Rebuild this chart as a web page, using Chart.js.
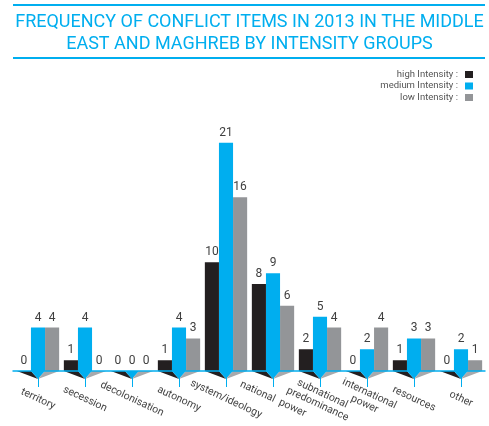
<!DOCTYPE html>
<html>
<head>
<meta charset="utf-8">
<script src="https://cdn.jsdelivr.net/npm/chart.js@4"></script>
<style>
html,body{margin:0;padding:0;background:#fff;}
#wrap{width:489px;height:426px;position:relative;}
</style>
</head>
<body>
<div id="wrap"><canvas id="c" width="489" height="426"></canvas></div>
<script>
const titleLines = ['FREQUENCY OF CONFLICT ITEMS IN 2013 IN THE MIDDLE', 'EAST AND MAGHREB BY INTENSITY GROUPS'];
const categories = ['territory', 'secession', 'decolonisation', 'autonomy', 'system/ideology', 'national  power', ['subnational', 'predominance'], ['international', 'power'], 'resources', 'other'];
const seriesNames = ['high Intensity :', 'medium Intensity :', 'low Intensity :'];
const highValues = [0, 1, 0, 1, 10, 8, 2, 0, 1, 0];
const mediumValues = [4, 4, 0, 4, 21, 9, 5, 2, 3, 2];
const lowValues = [4, 0, 0, 3, 16, 6, 4, 4, 3, 1];

const COL_HIGH = '#231f20', COL_MED = '#00aeef', COL_LOW = '#939598';
const SHADOW = ['#231f20', '#00aeef', '#a7a9ac'];
const TXT_FONT = 'Roboto, "Open Sans", sans-serif';

const decor = {
  id: 'decor',
  afterDraw(chart) {
    const ctx = chart.ctx;
    ctx.save();
    ctx.strokeStyle = '#00aeef';
    ctx.lineWidth = 2;
    ctx.beginPath();
    ctx.moveTo(13, 5); ctx.lineTo(485, 5);
    ctx.moveTo(13, 58); ctx.lineTo(485, 58);
    ctx.stroke();
    ctx.restore();
  },
  afterDatasetsDraw(chart) {
    const ctx = chart.ctx;
    const xs = chart.scales.x, ys = chart.scales.y;
    const base = ys.getPixelForValue(0);
    const area = chart.chartArea;
    ctx.save();
    // shadow wedges under bars
    chart.data.datasets.forEach((ds, i) => {
      const meta = chart.getDatasetMeta(i);
      meta.data.forEach((bar, j) => {
        const cx = xs.getPixelForValue(j);
        const l = bar.x - bar.width / 2, r = bar.x + bar.width / 2;
        ctx.fillStyle = SHADOW[i];
        ctx.beginPath();
        ctx.moveTo(l, base); ctx.lineTo(r, base); ctx.lineTo(cx, base + 8); ctx.closePath();
        ctx.fill();
      });
    });
    // axis line
    ctx.strokeStyle = '#00aeef';
    ctx.lineWidth = 1.5;
    ctx.beginPath();
    ctx.moveTo(area.left - 2, base); ctx.lineTo(area.right + 1, base);
    ctx.stroke();
    // ticks
    ctx.lineWidth = 1;
    categories.forEach((c, j) => {
      const cx = Math.round(xs.getPixelForValue(j)) + 0.5;
      ctx.beginPath(); ctx.moveTo(cx, base + 7); ctx.lineTo(cx, base + 16); ctx.stroke();
    });
    // value labels
    ctx.fillStyle = '#404040';
    ctx.font = '12px ' + TXT_FONT;
    ctx.textAlign = 'center';
    ctx.textBaseline = 'bottom';
    chart.data.datasets.forEach((ds, i) => {
      const meta = chart.getDatasetMeta(i);
      meta.data.forEach((bar, j) => {
        ctx.fillText(String(ds.data[j]), bar.x, bar.y - 4);
      });
    });
    // category labels (rotated clockwise)
    ctx.fillStyle = '#444';
    ctx.font = '10.5px ' + TXT_FONT;
    ctx.textBaseline = 'middle';
    categories.forEach((c, j) => {
      const lines = Array.isArray(c) ? c : [c];
      const cx = xs.getPixelForValue(j);
      ctx.save();
      ctx.translate(cx, 399);
      ctx.rotate(25 * Math.PI / 180);
      const lh = 11.5;
      lines.forEach((t, k) => {
        ctx.fillText(t, 0, (k - (lines.length - 1) / 2) * lh);
      });
      ctx.restore();
    });
    // legend
    ctx.font = '9.5px ' + TXT_FONT;
    ctx.textAlign = 'right';
    ctx.textBaseline = 'middle';
    chart.data.datasets.forEach((ds, i) => {
      const y = 74.5 + i * 11.5;
      ctx.fillStyle = '#555';
      ctx.fillText(ds.label, 458, y);
      ctx.fillStyle = ds.backgroundColor;
      ctx.fillRect(465, y - 3.5, 8, 7);
    });
    ctx.restore();
  }
};

new Chart(document.getElementById('c'), {
  type: 'bar',
  data: {
    labels: categories,
    datasets: [
      { label: seriesNames[0], data: highValues, backgroundColor: COL_HIGH },
      { label: seriesNames[1], data: mediumValues, backgroundColor: COL_MED },
      { label: seriesNames[2], data: lowValues, backgroundColor: COL_LOW }
    ]
  },
  options: {
    responsive: false,
    animation: false,
    layout: { padding: { left: 14.5, right: 4.5, top: 0, bottom: 55 } },
    datasets: { bar: { categoryPercentage: 0.9, barPercentage: 1.0 } },
    scales: {
      x: { display: false },
      y: { display: false, min: 0, max: 24 }
    },
    plugins: {
      legend: { display: false },
      tooltip: { enabled: false },
      title: {
        display: true,
        text: titleLines,
        color: '#00aeef',
        font: { family: 'Roboto, "Open Sans", sans-serif', size: 18, weight: 'normal', lineHeight: 1.2 },
        padding: { top: 12, bottom: 55 }
      }
    }
  },
  plugins: [decor]
});
</script>
</body>
</html>
